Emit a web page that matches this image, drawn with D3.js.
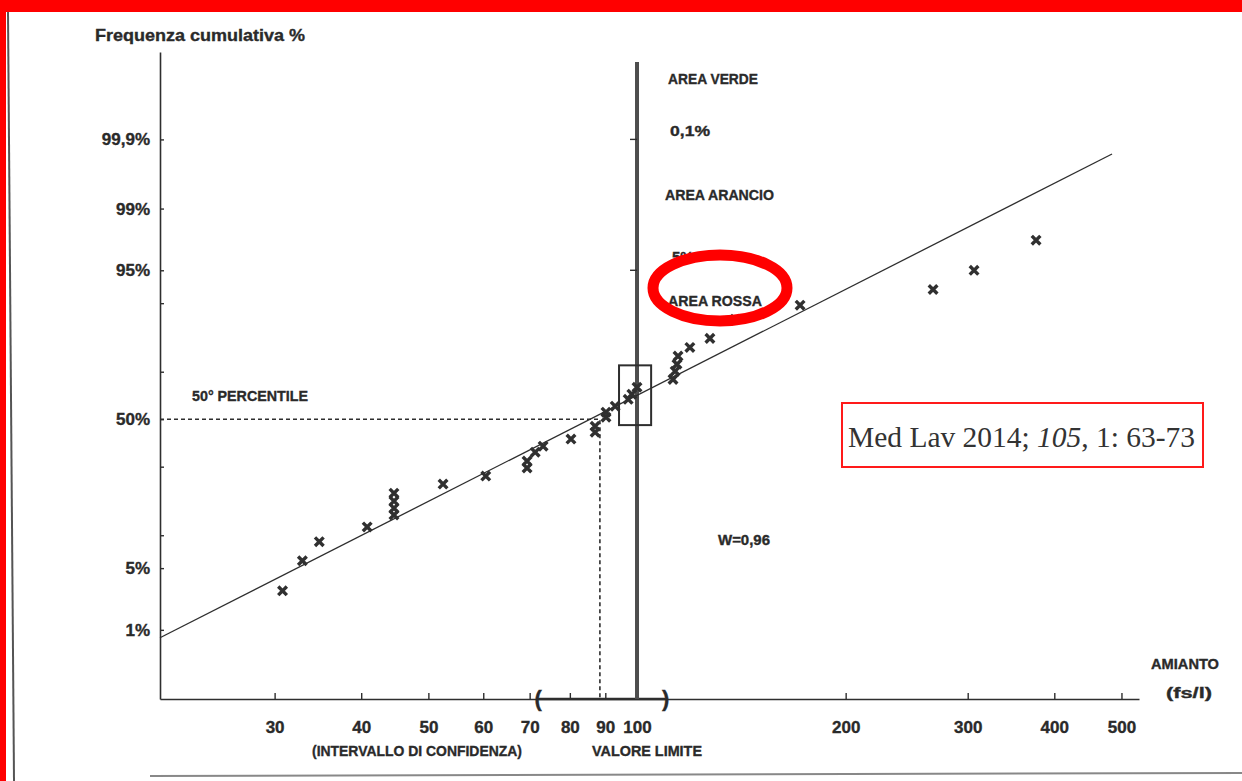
<!DOCTYPE html>
<html>
<head>
<meta charset="utf-8">
<script src="https://cdn.jsdelivr.net/npm/d3@7"></script>
<style>
  html, body { margin: 0; padding: 0; background: #fff; }
  svg { display: block; }
  .lbl { font-family: "Liberation Sans", Arial, sans-serif; font-weight: bold; fill: #2a2a2a;
         stroke: #2a2a2a; stroke-width: 0.35px; }
</style>
</head>
<body>
<svg id="chart" width="1242" height="781"></svg>
<script>
// Asbestos concentrations (fs/l), sorted, with their cumulative frequency (%)
const concentrations = [30.8, 32.9, 34.8, 40.8, 44.6, 44.6, 44.6, 44.6, 52.5, 60.5,
  69.4, 69.4, 71.3, 73.2, 80.3, 87.0, 87.0, 90.2, 90.2, 93.0,
  97.1, 98.3, 100, 112.7, 113.5, 114.2, 114.6, 119.2, 127.4, 138.5,
  171.9, 267.4, 306.4, 376.5];
const cumulativePct = [2.9, 5.9, 8.8, 11.7, 14.5, 16.3, 18.3, 20.7, 23.7, 26.5,
  29.5, 32.2, 35.8, 38.3, 41.3, 44.3, 46.9, 50.9, 53.1, 55.7,
  58.7, 60.9, 63.8, 67.0, 70.2, 72.8, 75.7, 78.6, 81.4, 86.5,
  89.6, 92.4, 95.0, 97.6];

// Log-normal fit line (end points)
const fitConc = [20.5, 484.6];
const fitPct = [0.79, 99.83];

// Axes
const xExtent = [20.5, 530];
const xTicks = [30, 40, 50, 60, 70, 80, 90, 100, 200, 300, 400, 500];
const yExtentPct = [0.1, 99.9975];
const yTicksPct = [1, 5, 10, 30, 50, 70, 90, 95, 99, 99.9];
const yTickLabels = ["1%", "5%", "", "", "50%", "", "", "95%", "99%", "99,9%"];

// Reference values
const limitValue = 100;
const medianConc = 88.4;
const medianPct = 50;
const ciConc = [72, 110];
const boxConc = [94.2, 104.8];
const boxPct = [47.4, 72.4];
const areaTickPct = [99.9, 95];

// Inverse standard normal CDF (Acklam)
function probit(p) {
  const a = [-3.969683028665376e+01, 2.209460984245205e+02, -2.759285104469687e+02, 1.383577518672690e+02, -3.066479806614716e+01, 2.506628277459239e+00];
  const b = [-5.447609879822406e+01, 1.615858368580409e+02, -1.556989798598866e+02, 6.680131188771972e+01, -1.328068155288572e+01];
  const c = [-7.784894002430293e-03, -3.223964580411365e-01, -2.400758277161838e+00, -2.549732539343734e+00, 4.374664141464968e+00, 2.938163982698783e+00];
  const d = [7.784695709041462e-03, 3.224671290700398e-01, 2.445134137142996e+00, 3.754408661907416e+00];
  const pl = 0.02425, ph = 1 - pl;
  let q, r;
  if (p < pl) {
    q = Math.sqrt(-2 * Math.log(p));
    return (((((c[0]*q+c[1])*q+c[2])*q+c[3])*q+c[4])*q+c[5]) / ((((d[0]*q+d[1])*q+d[2])*q+d[3])*q+1);
  }
  if (p <= ph) {
    q = p - 0.5; r = q * q;
    return (((((a[0]*r+a[1])*r+a[2])*r+a[3])*r+a[4])*r+a[5])*q / (((((b[0]*r+b[1])*r+b[2])*r+b[3])*r+b[4])*r+1);
  }
  q = Math.sqrt(-2 * Math.log(1 - p));
  return -(((((c[0]*q+c[1])*q+c[2])*q+c[3])*q+c[4])*q+c[5]) / ((((d[0]*q+d[1])*q+d[2])*q+d[3])*q+1);
}
const z = pct => probit(pct / 100);

const svg = d3.select("#chart");
const ink = "#2e2e2e";

// page frame
svg.append("rect").attr("width", 1242).attr("height", 781).attr("fill", "#fff");

const x = d3.scaleLog().domain(xExtent).range([160, 1139]);
const y = d3.scaleLinear().domain([z(yExtentPct[0]), z(yExtentPct[1])]).range([699, 52]);

// Y axis (probability scale)
const yAxis = d3.axisLeft(y)
  .tickValues(yTicksPct.map(z))
  .tickFormat((d, i) => yTickLabels[i])
  .tickSize(-4).tickSizeOuter(0).tickPadding(10);
const gy = svg.append("g").attr("transform", "translate(160,0)").call(yAxis);
gy.select(".domain").attr("stroke", ink).attr("stroke-width", 1.6);
gy.selectAll(".tick line").attr("stroke", ink).attr("stroke-width", 1.4);
gy.selectAll(".tick text").attr("class", "lbl").style("font-size", "17px").attr("fill", ink);

// X axis (log scale)
const xAxis = d3.axisBottom(x)
  .tickValues(xTicks)
  .tickFormat(d3.format("d"))
  .tickSize(-6).tickSizeOuter(0).tickPadding(23);
const gx = svg.append("g").attr("transform", "translate(0,699)").call(xAxis);
gx.select(".domain").attr("stroke", ink).attr("stroke-width", 1.6);
gx.selectAll(".tick line").attr("stroke", ink).attr("stroke-width", 1.4);
gx.selectAll(".tick text").attr("class", "lbl").style("font-size", "17px").attr("fill", ink);
gx.selectAll(".tick text").attr("dy", "0.32em").attr("y", 29);

// confidence interval on the x axis
svg.append("line")
  .attr("x1", x(ciConc[0])).attr("x2", x(ciConc[1]))
  .attr("y1", 699).attr("y2", 699)
  .attr("stroke", ink).attr("stroke-width", 2.6);
svg.selectAll(".ci").data(ciConc).enter().append("text")
  .attr("class", "lbl")
  .attr("x", d => x(d)).attr("y", 699).attr("dy", "0.33em")
  .attr("text-anchor", "middle")
  .style("font-size", "22px")
  .text((d, i) => i === 0 ? "(" : ")");

// limit value line
svg.append("line")
  .attr("x1", x(limitValue)).attr("x2", x(limitValue))
  .attr("y1", 62).attr("y2", 699)
  .attr("stroke", "#4d4d4d").attr("stroke-width", 4);
svg.selectAll(".atick").data(areaTickPct).enter().append("line")
  .attr("x1", x(limitValue) - 7).attr("x2", x(limitValue))
  .attr("y1", d => y(z(d))).attr("y2", d => y(z(d)))
  .attr("stroke", ink).attr("stroke-width", 1.4);

// 50th percentile guide lines
svg.append("path")
  .attr("d", d3.line()([[x(xExtent[0]), y(z(medianPct))], [x(medianConc), y(z(medianPct))], [x(medianConc), 699]]))
  .attr("fill", "none").attr("stroke", ink).attr("stroke-width", 1.6)
  .attr("stroke-dasharray", "4,3");

// fit line
svg.append("line")
  .attr("x1", x(fitConc[0])).attr("y1", y(z(fitPct[0])))
  .attr("x2", x(fitConc[1])).attr("y2", y(z(fitPct[1])))
  .attr("stroke", ink).attr("stroke-width", 1.3);

// box around the limit value
svg.append("rect")
  .attr("x", x(boxConc[0])).attr("y", y(z(boxPct[1])))
  .attr("width", x(boxConc[1]) - x(boxConc[0]))
  .attr("height", y(z(boxPct[0])) - y(z(boxPct[1])))
  .attr("fill", "none").attr("stroke", ink).attr("stroke-width", 2);

// observations
const marker = d3.symbol().type(d3.symbolX).size(50);
svg.selectAll(".obs").data(concentrations).enter().append("path")
  .attr("d", marker)
  .attr("transform", (d, i) => `translate(${x(d)},${y(z(cumulativePct[i]))})`)
  .attr("fill", "none").attr("stroke", "#303030").attr("stroke-width", 3.4);

// text labels
function label(txt, px, py, size, opts = {}) {
  const t = svg.append("text").attr("class", "lbl")
    .attr("x", px).attr("y", py).style("font-size", size + "px")
    .attr("text-anchor", opts.anchor || "start").text(txt);
  if (opts.len) t.attr("textLength", opts.len).attr("lengthAdjust", "spacingAndGlyphs");
  return t;
}
label("Frequenza cumulativa %", 95, 41, 17, { len: 210 });
label("AREA VERDE", 668, 84, 15, { len: 90 });
label("0,1%", 670, 136, 15, { len: 40 });
label("AREA ARANCIO", 665, 200, 15, { len: 109 });
label("5%", 672, 262, 15);
label("AREA ROSSA", 668, 306, 15, { len: 94 });
label("50° PERCENTILE", 192, 401, 15, { len: 116 });
label("W=0,96", 718, 545, 14, { len: 52 });
label("AMIANTO", 1185, 669, 14, { anchor: "middle", len: 68 });
label("(fs/l)", 1189, 698, 14, { anchor: "middle", len: 46 });
label("(INTERVALLO DI CONFIDENZA)", 312, 756, 15, { len: 210 });
label("VALORE LIMITE", 592, 756, 15, { len: 110 });

// highlight ellipse
svg.append("ellipse")
  .attr("cx", 720).attr("cy", 288).attr("rx", 67).attr("ry", 33)
  .attr("fill", "none").attr("stroke", "#ff0000").attr("stroke-width", 11);

// citation box
svg.append("rect")
  .attr("x", 842).attr("y", 403).attr("width", 361).attr("height", 64)
  .attr("fill", "#fff").attr("stroke", "#ff1a1a").attr("stroke-width", 2);
const cite = svg.append("text")
  .attr("x", 848).attr("y", 447)
  .style("font-family", "'Liberation Serif', 'Times New Roman', serif")
  .style("font-size", "30px").attr("fill", "#333")
  .attr("textLength", 347).attr("lengthAdjust", "spacingAndGlyphs");
cite.append("tspan").text("Med Lav 2014; ");
cite.append("tspan").style("font-style", "italic").text("105");
cite.append("tspan").text(", 1: 63-73");

// scan edges and red frame
svg.append("line").attr("x1", 8).attr("y1", 12).attr("x2", 14).attr("y2", 781)
  .attr("stroke", "#555").attr("stroke-width", 2);
svg.append("line").attr("x1", 150).attr("y1", 776).attr("x2", 1242).attr("y2", 773)
  .attr("stroke", "#888").attr("stroke-width", 2);
svg.append("rect").attr("x", 0).attr("y", 0).attr("width", 1242).attr("height", 12).attr("fill", "#ff0000");
svg.append("rect").attr("x", 0).attr("y", 0).attr("width", 6).attr("height", 781).attr("fill", "#ff0000");
</script>
</body>
</html>
